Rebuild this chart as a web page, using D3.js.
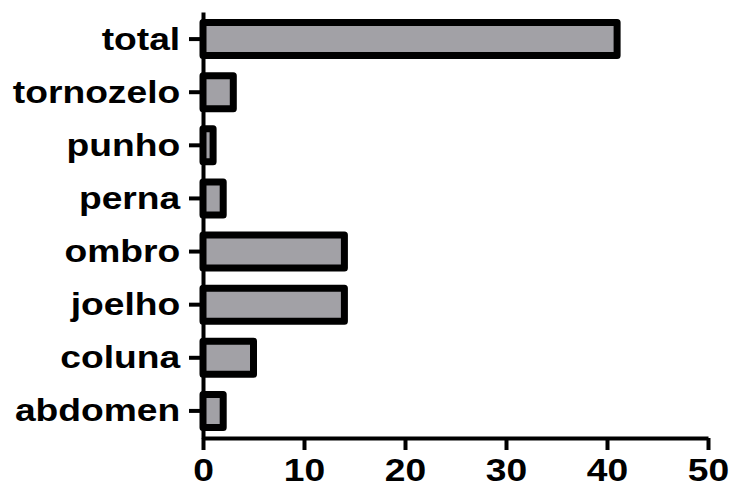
<!DOCTYPE html>
<html>
<head>
<meta charset="utf-8">
<script src="https://cdn.jsdelivr.net/npm/d3@7"></script>
<style>
  html, body { margin: 0; padding: 0; background: #fff; }
  svg { display: block; }
  text { font-family: "Liberation Sans", Arial, Helvetica, sans-serif; font-weight: bold; fill: #000; }
</style>
</head>
<body>
<svg id="chart" width="734" height="491"></svg>
<script>
// Injury counts by body region
const categories = ["total", "tornozelo", "punho", "perna", "ombro", "joelho", "coluna", "abdomen"];
const counts = [41, 3, 1, 2, 14, 14, 5, 2];
const xTicks = [0, 10, 20, 30, 40, 50];

(function () {
  const svg = d3.select("#chart");
  const plotLeft = 203, plotRight = 708, plotTop = 12, plotBottom = 438;
  const textStretch = 1.2;

  const x = d3.scaleLinear().domain([0, 50]).range([plotLeft, plotRight]);
  const y = d3.scaleBand().domain(categories).range([plotTop, plotBottom])
    .paddingInner(0.38).paddingOuter(0.2);

  // bars
  svg.append("g")
    .selectAll("rect")
    .data(categories.map((c, i) => ({ c, v: counts[i] })))
    .join("rect")
    .attr("x", x(0))
    .attr("y", d => y(d.c))
    .attr("width", d => x(d.v) - x(0))
    .attr("height", y.bandwidth())
    .attr("fill", "#a2a1a6")
    .attr("stroke", "#000")
    .attr("stroke-width", 7)
    .attr("stroke-linejoin", "round");

  // x axis
  const gx = svg.append("g")
    .attr("transform", `translate(0,${plotBottom})`)
    .call(d3.axisBottom(x).tickValues(xTicks).tickSize(12).tickSizeOuter(0).tickPadding(9));

  // y axis
  const gy = svg.append("g")
    .attr("transform", `translate(${plotLeft},0)`)
    .call(d3.axisLeft(y).tickSize(14).tickSizeOuter(0).tickPadding(5));

  [gx, gy].forEach(g => {
    g.select(".domain").attr("stroke", "#000").attr("stroke-width", 4);
    g.selectAll(".tick line").attr("stroke", "#000").attr("stroke-width", 4);
    g.selectAll(".tick text")
      .attr("font-size", 31)
      .attr("fill", "#000");
  });
  gx.attr("font-family", null);
  gy.attr("font-family", null);

  // slightly wide lettering
  gx.selectAll(".tick text").attr("transform", `scale(${textStretch},1)`);
  gy.selectAll(".tick text").attr("transform", `scale(${textStretch},1)`)
    .attr("dy", "0.34em");
})();
</script>
</body>
</html>
